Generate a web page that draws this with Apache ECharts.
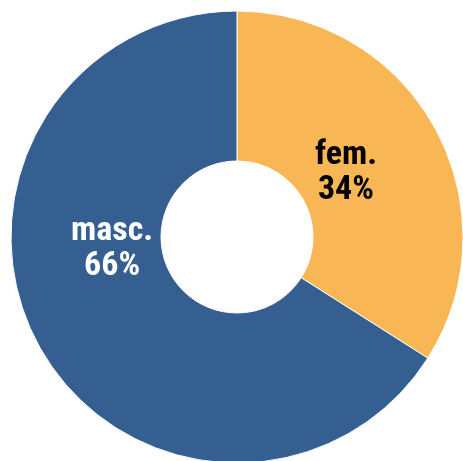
<!DOCTYPE html>
<html>
<head>
<meta charset="utf-8">
<script src="https://cdn.jsdelivr.net/npm/echarts@6/dist/echarts.min.js"></script>
<style>
  html, body { margin: 0; padding: 0; background: #ffffff; }
  #chart { width: 463px; height: 461px; }
</style>
</head>
<body>
<div id="chart"></div>
<script>
// Gender split, in percent
const categories = ['fem.', 'masc.'];
const shares = [34, 66];
const colors = ['#F9B655', '#355F90'];
const labelColors = ['#000000', '#ffffff'];
// per-slice nudges of the label away from the ring's mid-radius point
const labelOffsets = [[-26, 10], [10, -62]];

const chart = echarts.init(document.getElementById('chart'), null, { renderer: 'canvas' });

chart.setOption({
  animation: false,
  series: [{
    type: 'pie',
    center: [237, 237],
    radius: [76, 226],
    startAngle: 90,
    clockwise: true,
    avoidLabelOverlap: false,
    itemStyle: { borderColor: '#ffffff', borderWidth: 1 },
    label: {
      show: true,
      position: 'inside',
      fontFamily: '"Roboto Condensed", "DejaVu Sans Condensed", sans-serif',
      fontWeight: 'bold',
      fontSize: 34,
      lineHeight: 35,
      align: 'center',
      formatter: p => p.name + '\n' + p.value + '%'
    },
    labelLine: { show: false },
    data: categories.map((name, i) => ({
      name,
      value: shares[i],
      itemStyle: { color: colors[i] },
      label: { color: labelColors[i], offset: labelOffsets[i] }
    }))
  }]
});
</script>
</body>
</html>
